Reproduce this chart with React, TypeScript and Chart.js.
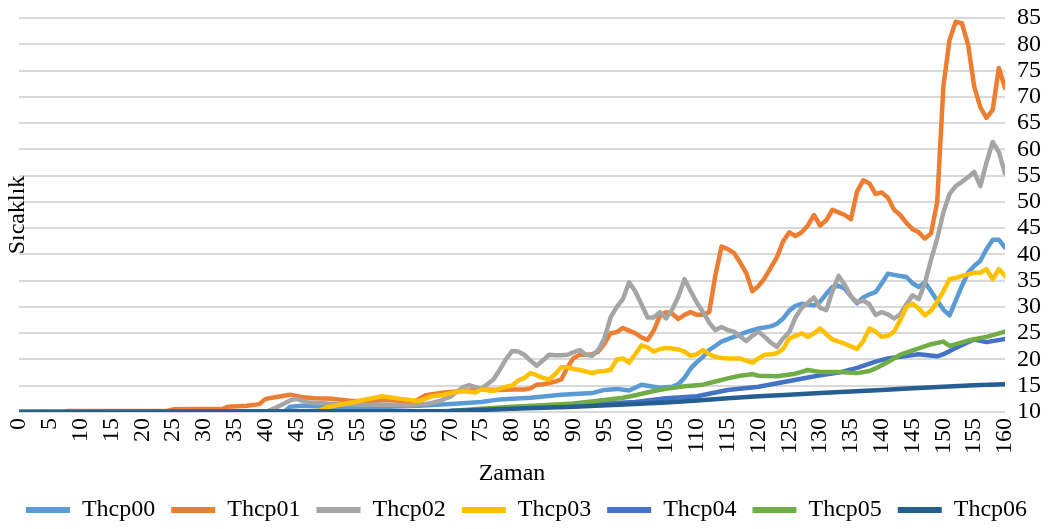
import { useEffect, useRef } from 'react';
import { Chart, registerables } from 'chart.js';

Chart.register(...registerables);

const seriesNames = ['Thcp00', 'Thcp01', 'Thcp02', 'Thcp03', 'Thcp04', 'Thcp05', 'Thcp06'];
const seriesColors = ['#5B9BD5', '#ED7D31', '#A5A5A5', '#FFC000', '#4472C4', '#70AD47', '#255E91'];

const xTickMin = 0;
const xTickMax = 160;
const xTickStep = 5;
const yTickMin = 10;
const yTickMax = 85;
const yTickStep = 5;

// Thcp00
const thcp00Time = [0, 43, 44, 46, 50, 55, 60, 65, 70, 75, 78, 83, 88, 93, 95, 97, 99, 101, 104, 106, 107, 108, 109, 110, 111, 112, 114, 116, 118, 120, 122, 123, 124, 125, 126, 127, 129, 130, 131, 132, 133, 134, 135, 136, 137, 138, 139, 140, 141, 142, 143, 144, 145, 146, 147, 148, 149, 150, 151, 152, 153, 154, 155, 156, 157, 158, 159, 160];
const thcp00Temp = [10, 10, 11, 11.2, 11, 10.9, 11, 11.2, 11.5, 11.9, 12.4, 12.7, 13.3, 13.6, 14.2, 14.4, 14.1, 15.2, 14.6, 14.8, 15.3, 16.5, 18.3, 19.5, 20.5, 21.8, 23.4, 24.3, 25.2, 25.9, 26.3, 26.8, 27.8, 29.3, 30.2, 30.6, 30.3, 31, 32.5, 33.8, 34, 33.5, 32, 30.7, 31.8, 32.4, 32.8, 34.5, 36.3, 36.1, 35.9, 35.7, 34.5, 33.8, 34.7, 33, 31.2, 29.5, 28.4, 31.2, 34, 36.5, 37.8, 38.8, 41, 42.8, 42.8, 41.3];

// Thcp01
const thcp01Time = [0, 7, 8, 24, 25, 33, 34, 37, 39, 40, 42, 44, 46, 48, 51, 54, 57, 60, 64, 66, 69, 72, 75, 78,
  80, 81, 82, 83, 84, 85, 86, 87, 88, 89, 90, 91, 92, 93, 94, 95, 96, 97, 98, 99,
  100, 101, 102, 103, 104, 105, 106, 107, 108, 109, 110, 111, 112, 113, 114, 115, 116, 117, 118, 119,
  120, 121, 122, 123, 124, 125, 126, 127, 128, 129, 130, 131, 132, 133, 134, 135, 136, 137, 138, 139,
  140, 141, 142, 143, 144, 145, 146, 147, 148, 149, 150, 151, 152, 153, 154, 155, 156, 157, 158, 159, 160];
const thcp01Temp = [10, 10, 10.2, 10.2, 10.5, 10.6, 11, 11.2, 11.5, 12.5, 12.9, 13.3, 12.8, 12.6, 12.5, 12.1, 12.1, 12.3, 11.9, 13.2, 13.7, 14, 14.3, 14.2,
  14.3, 14.3, 14.3, 14.5, 15.2, 15.3, 15.5, 15.8, 16.2, 18.5, 20.3, 20.9, 20.9, 21, 21.5, 23, 25, 25.2, 26, 25.5,
  25, 24.2, 23.7, 25.5, 28.3, 29, 28.7, 27.7, 28.5, 29, 28.5, 28.5, 29, 36, 41.5, 41, 40.3, 38.5, 36.5, 33,
  34, 35.5, 37.5, 39.5, 42.5, 44.2, 43.5, 44.2, 45.5, 47.5, 45.5, 46.5, 48.5, 48, 47.5, 46.7, 52, 54.1, 53.5, 51.5,
  51.8, 50.8, 48.5, 47.5, 46, 44.8, 44.2, 43, 44, 50, 72, 80.8, 84.3, 84, 80, 72, 68, 66, 67.5, 75.5, 71.7];

// Thcp02
const thcp02Time = [0, 40, 42, 44, 45, 47, 50, 53, 56, 60, 63, 66, 68, 70, 72, 73, 75, 77, 78, 79,
  80, 81, 82, 83, 84, 85, 86, 87, 88, 89, 90, 91, 92, 93, 94, 95, 96, 97, 98, 99,
  100, 101, 102, 103, 104, 105, 106, 107, 108, 109, 110, 111, 112, 113, 114, 115, 116, 117, 118, 119,
  120, 121, 122, 123, 124, 125, 126, 127, 128, 129, 130, 131, 132, 133, 134, 135, 136, 137, 138, 139,
  140, 141, 142, 143, 144, 145, 146, 147, 148, 149, 150, 151, 152, 153, 154, 155, 156, 157, 158, 159, 160];
const thcp02Temp = [10, 10, 11, 12.2, 12.5, 11.8, 11.6, 11.5, 11.4, 11.4, 11.3, 11.5, 12, 12.9, 14.7, 15.1, 14.4, 16.2, 18, 20,
  21.6, 21.5, 20.9, 19.8, 18.8, 19.8, 20.9, 20.8, 20.8, 20.9, 21.4, 21.8, 20.9, 20.7, 21.8, 24, 28, 30, 31.5, 34.7,
  33, 30.5, 28, 28, 29, 27.8, 29.5, 32, 35.3, 33, 30.8, 29, 27, 25.6, 26.2, 25.6, 25.3, 24.4, 23.5, 24.5,
  25.3, 24.3, 23.2, 22.4, 24, 25.2, 28, 29.8, 30.8, 31.8, 29.8, 29.4, 33, 35.9, 34.2, 32, 30.9, 31.2, 30.5, 28.5,
  29, 28.6, 27.8, 28.6, 30.5, 32.2, 31.5, 34.5, 39, 43, 48, 51.5, 53, 53.8, 54.7, 55.7, 53, 57.5, 61.4, 59.5, 55.4];

// Thcp03
const thcp03Time = [0, 48, 50, 54, 56, 59, 60, 62, 64, 65, 67, 69, 71, 72, 74, 75, 77, 79,
  80, 81, 82, 83, 84, 85, 86, 87, 88, 89, 90, 91, 92, 93, 94, 95, 96, 97, 98, 99,
  100, 101, 102, 103, 104, 105, 106, 107, 108, 109, 110, 111, 112, 113, 114, 115, 116, 117, 118, 119,
  120, 121, 122, 123, 124, 125, 126, 127, 128, 129, 130, 131, 132, 133, 134, 135, 136, 137, 138, 139,
  140, 141, 142, 143, 144, 145, 146, 147, 148, 149, 150, 151, 152, 153, 154, 155, 156, 157, 158, 159, 160];
const thcp03Temp = [10, 10, 10.9, 11.8, 12.3, 13, 12.8, 12.5, 12.2, 12.1, 13, 13.3, 13.8, 14, 13.7, 14.3, 14, 14.8,
  15, 16, 16.5, 17.4, 17, 16.5, 16.2, 17.2, 18.5, 18.5, 18.2, 18, 17.7, 17.4, 17.7, 17.8, 18, 20, 20.2, 19.4,
  21, 22.7, 22.3, 21.5, 22, 22.2, 22.1, 21.9, 21.5, 20.7, 21, 21.8, 21, 20.5, 20.3, 20.2, 20.2, 20.2, 19.8, 19.4,
  20.2, 20.9, 21, 21.2, 22, 24, 24.5, 25, 24.3, 25, 25.9, 24.8, 23.8, 23.4, 23, 22.5, 22, 23.5, 25.9, 25.3,
  24.3, 24.5, 25.3, 27.5, 30, 30.6, 29.7, 28.4, 29.3, 31, 33, 35.3, 35.5, 35.9, 36.2, 36.5, 36.5, 37.2, 35.3, 37.2, 35.9];

// Thcp04
const thcp04Time = [0, 65, 70, 75, 80, 85, 90, 95, 100, 105, 110, 115, 120, 125, 130, 133, 136, 139, 141, 143, 146, 149, 150, 152, 155, 157, 160];
const thcp04Temp = [10, 10, 10.2, 10.4, 10.7, 11, 11.3, 11.6, 11.9, 12.6, 13, 14.2, 14.8, 15.9, 17, 17.5, 18.4, 19.6, 20.2, 20.5, 21, 20.6, 21, 22.2, 23.8, 23.3, 23.9];

// Thcp05
const thcp05Time = [0, 70, 75, 80, 85, 90, 95, 98, 100, 103, 105, 108, 111, 113, 115, 117, 119, 120, 123, 126, 128, 130, 133, 136, 138, 139, 141, 143, 146, 148, 150, 151, 154, 157, 160];
const thcp05Temp = [10, 10.2, 10.6, 11, 11.3, 11.6, 12.3, 12.7, 13.2, 14, 14.4, 14.9, 15.2, 15.8, 16.4, 16.9, 17.2, 16.9, 16.8, 17.3, 18, 17.6, 17.6, 17.4, 17.8, 18.3, 19.5, 20.9, 22.1, 22.9, 23.4, 22.6, 23.6, 24.3, 25.3];

// Thcp06
const thcp06Time = [0, 70, 80, 90, 100, 105, 110, 115, 120, 125, 130, 135, 140, 145, 150, 155, 160];
const thcp06Temp = [10, 10.2, 10.6, 11, 11.5, 11.8, 12.2, 12.6, 13, 13.3, 13.6, 13.9, 14.2, 14.5, 14.8, 15.1, 15.3];

const seriesTimes = [thcp00Time, thcp01Time, thcp02Time, thcp03Time, thcp04Time, thcp05Time, thcp06Time];
const seriesTemps = [thcp00Temp, thcp01Temp, thcp02Temp, thcp03Temp, thcp04Temp, thcp05Temp, thcp06Temp];

const FONT = '"Liberation Serif", "Times New Roman", serif';
const FONT_SIZE = 24;

export default function App() {
  const canvasRef = useRef<HTMLCanvasElement | null>(null);

  useEffect(() => {
    if (!canvasRef.current) return;
    const datasets = seriesNames.map((name, i) => ({
      label: name,
      data: seriesTimes[i].map((t, j) => ({ x: t, y: seriesTemps[i][j] })),
      borderColor: seriesColors[i],
      backgroundColor: seriesColors[i],
      borderWidth: 4.5,
      pointRadius: 0,
      pointHoverRadius: 0,
      tension: 0,
      fill: false,
      borderJoinStyle: 'round' as const,
      borderCapStyle: 'round' as const,
      order: seriesNames.length - 1 - i,
    }));

    const chart = new Chart(canvasRef.current, {
      type: 'line',
      data: { datasets },
      options: {
        animation: false,
        responsive: true,
        maintainAspectRatio: false,
        layout: { padding: { top: 0, right: 6, bottom: -3, left: 0 } },
        plugins: {
          tooltip: { enabled: false },
          legend: {
            position: 'bottom',
            labels: {
              boxWidth: 44,
              boxHeight: 6,
              padding: 16,
              color: '#000',
              font: { family: FONT, size: FONT_SIZE, lineHeight: 0.8 },
              sort: (a: any, b: any) => a.datasetIndex - b.datasetIndex,
              generateLabels: (c: any) =>
                (Chart.defaults.plugins.legend.labels.generateLabels as any)(c).map((l: any) => ({ ...l, lineWidth: 0 })),
            },
          },
        },
        scales: {
          x: {
            type: 'linear',
            min: xTickMin,
            max: xTickMax,
            grid: { display: false, drawTicks: false },
            border: { display: false },
            ticks: {
              stepSize: xTickStep,
              autoSkip: false,
              maxRotation: 90,
              minRotation: 90,
              padding: 6,
              color: '#000',
              font: { family: FONT, size: FONT_SIZE, lineHeight: 1 },
            },
            title: {
              display: true,
              text: 'Zaman',
              color: '#000',
              font: { family: FONT, size: FONT_SIZE, lineHeight: 1 },
              padding: { top: 2, bottom: -4 },
            },
          },
          y: {
            position: 'right',
            min: yTickMin,
            max: yTickMax,
            grid: { color: '#D9D9D9', lineWidth: 2, drawTicks: false },
            border: { display: false },
            ticks: {
              stepSize: yTickStep,
              autoSkip: false,
              padding: 12,
              color: '#000',
              font: { family: FONT, size: FONT_SIZE, lineHeight: 0.5 },
            },
          },
          yL: {
            position: 'left',
            min: 0,
            max: 1,
            grid: { display: false, drawTicks: false },
            border: { display: false },
            ticks: { display: false },
            afterFit: (scale: any) => {
              scale.width = 19;
            },
            title: {
              display: true,
              text: 'Sıcaklık',
              color: '#000',
              font: { family: FONT, size: FONT_SIZE },
              padding: { top: 3, bottom: 0 },
            },
          },
        },
      },
    } as any);
    return () => chart.destroy();
  }, []);

  return (
    <div style={{ position: 'fixed', left: 0, top: 0, width: '1059px', height: '529px', background: '#fff' }}>
      <canvas ref={canvasRef} />
    </div>
  );
}
